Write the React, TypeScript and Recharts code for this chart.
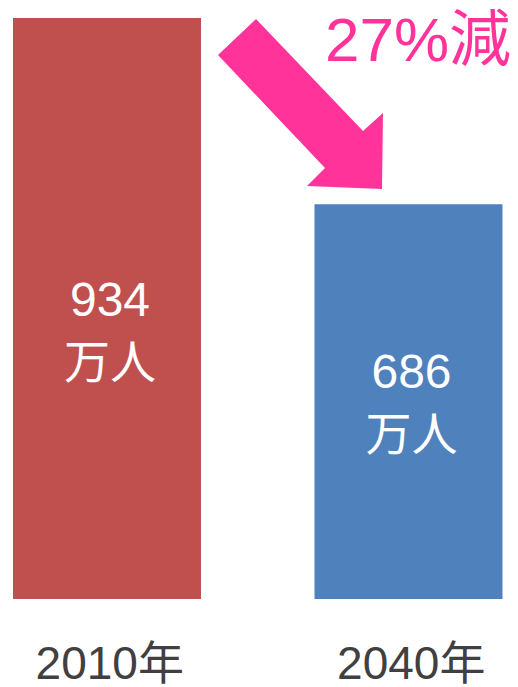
import { BarChart, Bar, XAxis, YAxis, Cell, LabelList } from 'recharts';

const years = ['2010年', '2040年'];
const population = [934, 686];
const unitLabel = '万人';
const changeLabel = '27%減';
const barColors = ['#C0504D', '#4F81BD'];

const data = years.map((year, i) => ({ year, value: population[i] }));

const FONT = "'Liberation Sans', Arial, 'Noto Sans CJK JP', sans-serif";
// vertical nudge of the in-bar labels, per bar
const labelShift = [7.5, -13.5];

function BarLabel(props: any) {
  const { x, y, width, height, value, index } = props;
  const cx = x + width / 2 + 3;
  const cy = y + height / 2 + (labelShift[index] ?? 0);
  return (
    <g fontFamily={FONT} fill="#ffffff" textAnchor="middle">
      <text x={cx} y={cy} fontSize={48}>
        {value}
      </text>
      <text x={cx} y={cy + 62} fontSize={46}>
        {unitLabel}
      </text>
    </g>
  );
}

function YearTick(props: any) {
  const { x, y, payload } = props;
  return (
    <text
      x={x + 3}
      y={y + 80}
      textAnchor="middle"
      fontSize={46}
      fontFamily={FONT}
      fill="#404040"
    >
      {payload.value}
    </text>
  );
}

export default function App() {
  return (
    <div
      style={{
        position: 'absolute',
        top: 0,
        left: 0,
        width: 518,
        height: 687,
        overflow: 'hidden',
        background: '#fff',
      }}
    >
      <div style={{ position: 'absolute', left: -44, top: 0 }}>
        <BarChart
          width={603}
          height={687}
          data={data}
          margin={{ top: 18, right: 0, left: 0, bottom: 0 }}
          barCategoryGap={0}
        >
          <XAxis
            dataKey="year"
            axisLine={false}
            tickLine={false}
            tickSize={0}
            tickMargin={0}
            height={88}
            interval={0}
            tick={<YearTick />}
          />
          <YAxis hide domain={[160, 934]} allowDataOverflow />
          <Bar dataKey="value" barSize={188} isAnimationActive={false}>
            {data.map((entry, index) => (
              <Cell key={`bar-${index}`} fill={barColors[index]} />
            ))}
            <LabelList dataKey="value" content={<BarLabel />} />
          </Bar>
        </BarChart>
      </div>
      <svg
        width={518}
        height={687}
        style={{ position: 'absolute', left: 0, top: 0, pointerEvents: 'none' }}
      >
        <polygon
          points="218,55 256,19 363,131 383,113 382,189 307,186 325,168"
          fill="#FF3399"
        />
        <text x={325} y={61} fontSize={62} fontFamily={FONT} fill="#FF3399">
          {changeLabel}
        </text>
      </svg>
    </div>
  );
}
